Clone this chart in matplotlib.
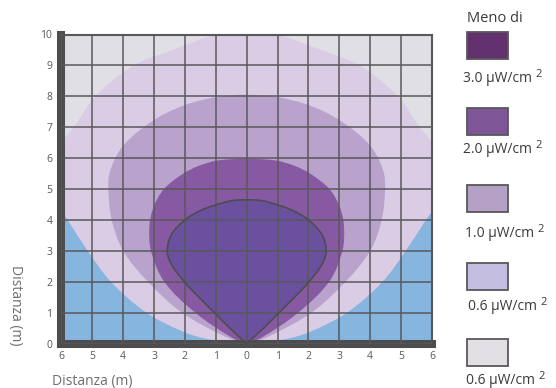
import matplotlib
matplotlib.use('Agg')
import matplotlib.pyplot as plt
import numpy as np
from matplotlib.patches import Rectangle, PathPatch
from matplotlib.path import Path

plt.rcParams['font.family'] = ['Open Sans', 'DejaVu Sans']

# ---- data ----
x_ticks = list(range(-6, 7))
x_tick_labels = [str(abs(v)) for v in x_ticks]
y_ticks = list(range(0, 11))
y_tick_labels = [str(v) for v in y_ticks]

# coverage zones: height (m) and half width (m) along each boundary
zone_a_y = [0, 0.15, 0.4, 1, 2, 3, 4, 4.3, 5, 5.5, 6, 6.5, 7, 8, 9, 9.5, 10, 10.15]
zone_a_hw = [0, 1.3, 2.1, 3.25, 4.4, 5.15, 5.8, 6.0, 6.15, 6.2, 6.15, 6.0, 5.6, 4.9, 3.65, 2.4, 1.0, 0]

zone_b_y = [0, 0.2, 1, 2, 3, 4, 5, 5.6, 6.4, 7.2, 7.7, 7.97, 8.05]
zone_b_hw = [0, 0.65, 2.1, 3.2, 4.0, 4.37, 4.48, 4.42, 4.0, 3.05, 2.05, 1.0, 0]

zone_c_y = [0, 0.2, 1, 2, 3, 3.8, 4.4, 5.0, 5.5, 5.75, 5.92, 5.98]
zone_c_hw = [0, 0.5, 1.67, 2.67, 3.1, 3.15, 3.02, 2.68, 2.05, 1.55, 0.95, 0]

zone_d_y = [0, 0.5, 1, 1.5, 2, 2.5, 2.95, 3.5, 4, 4.3, 4.47, 4.62, 4.65]
zone_d_hw = [0, 0.55, 1.05, 1.55, 2.02, 2.4, 2.57, 2.45, 2.0, 1.5, 1.05, 0.5, 0]

legend_title = 'Meno di'
legend_values = ['3.0', '2.0', '1.0', '0.6', '0.6']
legend_unit = 'μW/cm'
legend_colors = ['#64316f', '#7e5596', '#b6a1c6', '#c3bde0', '#e2e0e5']

axis_label = 'Distanza (m)'

# ---- styling ----
C_GRAY = '#e1dfe6'
C_BLUE = '#86b6df'
C_A = '#d9cce4'
C_B = '#b9a3cc'
C_C = '#8759a2'
C_D = '#6c50a0'
C_GRID = '#58585a'
C_SPINE = '#4d4d4f'
C_TEXT = '#6d6e71'
C_DARK = '#3a3a3c'

W, H = 556, 388
fig = plt.figure(figsize=(W / 100, H / 100), dpi=100)
ax = fig.add_axes([61.4 / W, 1 - 343.5 / H, (432 - 61.4) / W, (343.5 - 34.5) / H])
ax.set_xlim(-6, 6)
ax.set_ylim(0, 10)
ax.set_facecolor(C_GRAY)
ax.axhspan(0, 5.4, color=C_BLUE, lw=0, zorder=0.5)


def outline(ys, hws):
    xs = list(hws) + [-h for h in reversed(hws[:-1])]
    yy = list(ys) + list(reversed(ys[:-1]))
    return np.column_stack([xs, yy])


def smooth_path(pts):
    """Smooth curve through the points (cubic Bezier, tangents from neighbours)."""
    n = len(pts)
    verts = [pts[0]]
    codes = [Path.MOVETO]
    for i in range(n - 1):
        p0 = pts[i - 1] if i > 0 else pts[i]
        p1 = pts[i]
        p2 = pts[i + 1]
        p3 = pts[i + 2] if i + 2 < n else pts[i + 1]
        seg = np.hypot(*(p2 - p1))
        t1 = p2 - p0
        t1 = t1 / np.hypot(*t1)
        t2 = p3 - p1
        t2 = t2 / np.hypot(*t2)
        verts += [p1 + t1 * seg / 3, p2 - t2 * seg / 3, p2]
        codes += [Path.CURVE4] * 3
    return Path(np.array(verts), codes)


for ys, hws, col in [(zone_a_y, zone_a_hw, C_A), (zone_b_y, zone_b_hw, C_B),
                     (zone_c_y, zone_c_hw, C_C), (zone_d_y, zone_d_hw, C_D)]:
    p = smooth_path(outline(ys, hws))
    ax.add_patch(PathPatch(p, facecolor=col, lw=0, zorder=1))

p = smooth_path(outline(zone_d_y, zone_d_hw))
ax.add_patch(PathPatch(p, facecolor='none', edgecolor=C_SPINE, lw=1.2, zorder=3))

ax.set_axisbelow(False)
ax.set_xticks(x_ticks)
ax.set_xticklabels(x_tick_labels)
ax.set_yticks(y_ticks)
ax.set_yticklabels(y_tick_labels)
ax.grid(True, color=C_GRID, lw=1.1)
tick_font = ['Liberation Sans Narrow', 'Open Sans', 'DejaVu Sans']
ax.tick_params(length=0, labelsize=7.5, labelcolor=C_GRID)
ax.tick_params(axis='x', pad=5.5)
ax.tick_params(axis='y', pad=6.5)
for lab in ax.get_xticklabels() + ax.get_yticklabels():
    lab.set_fontfamily(tick_font)

for s in ['left', 'bottom']:
    ax.spines[s].set_linewidth(5.8)
    ax.spines[s].set_color(C_SPINE)
for s in ['top', 'right']:
    ax.spines[s].set_linewidth(1.5)
    ax.spines[s].set_color(C_GRID)

# overlay in pixel coordinates for legend and axis titles
ov = fig.add_axes([0, 0, 1, 1])
ov.set_xlim(0, W)
ov.set_ylim(H, 0)
ov.axis('off')

ov.text(52, 385, axis_label, ha='left', va='baseline', fontsize=10, color=C_TEXT)
ov.text(15, 305, axis_label, ha='center', va='center', rotation=270, fontsize=10, color=C_TEXT)

ov.text(467, 22.5, legend_title, ha='left', va='baseline', fontsize=10.5, color=C_DARK)
sw_tops = [32, 108, 185, 263, 339]
lab_base = [82, 153, 237, 310, 384]
lab_x = [463, 463, 465, 468, 466]
for i, (val, col) in enumerate(zip(legend_values, legend_colors)):
    ov.add_patch(Rectangle((467, sw_tops[i]), 41, 26.5, facecolor=col, edgecolor=C_GRID, lw=1.3))
    t = ov.text(lab_x[i], lab_base[i], f'{val} {legend_unit}', ha='left', va='baseline',
                fontsize=10, color=C_DARK)
    ov.annotate('2', xy=(1, 0.42), xycoords=t, xytext=(2.5, 0), textcoords='offset points',
                ha='left', va='bottom', fontsize=8, color=C_DARK)

fig.savefig('out.png', dpi=100)
